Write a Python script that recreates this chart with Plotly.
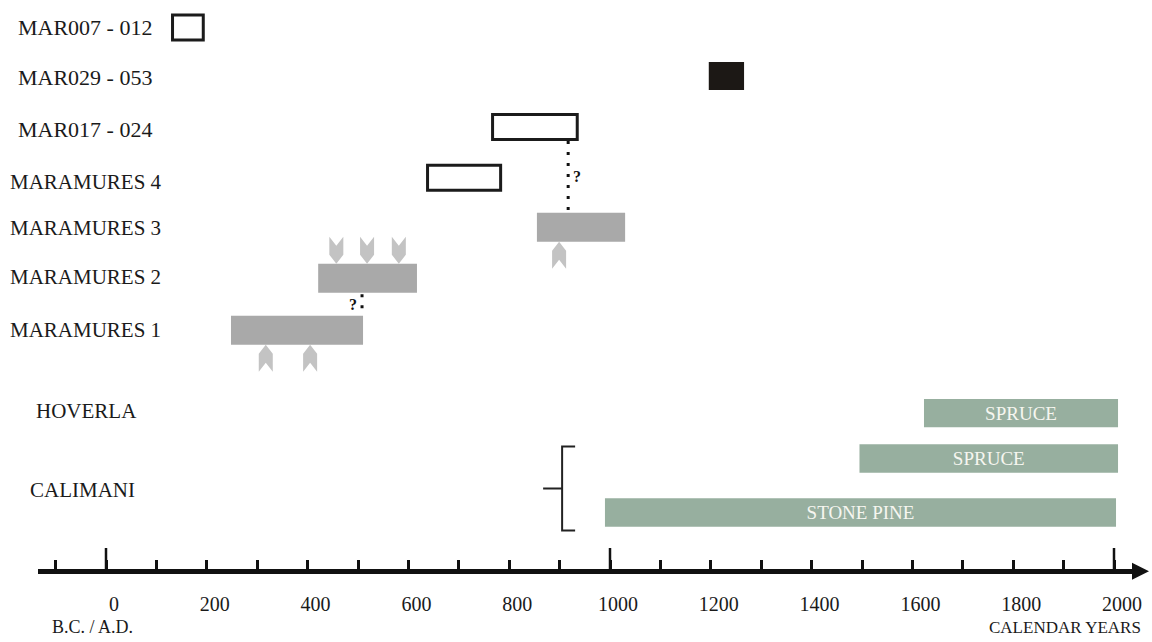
import plotly.graph_objects as go

FONT = "Liberation Serif"

# ---------------- data ----------------
ROW_NAMES = ["MAR007 - 012", "MAR029 - 053", "MAR017 - 024",
             "MARAMURES 4", "MARAMURES 3", "MARAMURES 2", "MARAMURES 1"]
ROW_START = [132, 1196, 767, 638, 855, 421, 248]
ROW_END = [193, 1266, 935, 783, 1030, 617, 510]
ROW_KIND = ["open", "filled", "open", "open", "gray", "gray", "gray"]

SITE_NAMES = ["HOVERLA", "CALIMANI"]
TREE_LABELS = ["SPRUCE", "SPRUCE", "STONE PINE"]
TREE_START = [1623, 1495, 990]
TREE_END = [2008, 2008, 2004]

CHEVRON_ROW = ["MARAMURES 2", "MARAMURES 2", "MARAMURES 2",
               "MARAMURES 1", "MARAMURES 1", "MARAMURES 3"]
CHEVRON_YEAR = [457, 518, 581, 317, 405, 899]
CHEVRON_SIDE = ["above", "above", "above", "below", "below", "below"]

LINK_YEAR = [917, 508]
LINK_FROM = ["MAR017 - 024", "MARAMURES 2"]
LINK_TO = ["MARAMURES 3", "MARAMURES 1"]
LINK_QSIDE = [1, -1]

AXIS_TICKS = list(range(-100, 2001, 100))
AXIS_LABELS = list(range(0, 2001, 200))
AXIS_MAJOR = [0, 1000, 2000]
BRACE_YEAR = 905

# ---------------- layout constants ----------------
W, H = 1152, 642
ML, MR, MB = 38, 19, 72.5
PW = W - ML - MR
PH = H - MB
X_RANGE = [(ML - 106) / 0.504, (W - MR - 106) / 0.504]

ROW_Y = [27.5, 76, 127, 178, 227.5, 278.5, 330.5]
ROW_H = {"open": 25, "filled": 28, "gray": 29}
ROW_LABEL_X = [16, 16, 16, 8, 8, 8, 8]
ROW_LABEL_SIZE = [22, 22, 22, 21, 21, 21, 21]
ROW_LABEL_DY = [0, 2, 3, 4, 1, -1, 0]
TREE_Y = [413.5, 459, 513]
TREE_H = 28.5
SITE_LABEL_X = [34, 28]
SITE_LABEL_Y = [411, 490]

C_OPEN_LINE = "#1b1b1b"
C_FILLED = "#1c1815"
C_GRAY = "#a9a9a9"
C_CHEV = "#c3c3c3"
C_GREEN = "#97af9f"
C_TEXT = "#1a1a1a"


def paper(px, py):
    return (px - ML) / PW, (PH - py) / PH


row_idx = {n: i for i, n in enumerate(ROW_NAMES)}

fig = go.Figure()

styles = {
    "open": dict(color="white", line=dict(color=C_OPEN_LINE, width=3)),
    "filled": dict(color=C_FILLED, line=dict(color=C_FILLED, width=0)),
    "gray": dict(color=C_GRAY, line=dict(width=0)),
}
for kind, mk in styles.items():
    ids = [i for i, k in enumerate(ROW_KIND) if k == kind]
    fig.add_trace(go.Bar(
        orientation="h",
        y=[ROW_Y[i] for i in ids],
        x=[ROW_END[i] - ROW_START[i] for i in ids],
        base=[ROW_START[i] for i in ids],
        width=[ROW_H[kind]] * len(ids),
        marker=mk, hoverinfo="skip", showlegend=False,
    ))

fig.add_trace(go.Bar(
    orientation="h",
    y=TREE_Y,
    x=[e - s for s, e in zip(TREE_START, TREE_END)],
    base=TREE_START,
    width=[TREE_H] * len(TREE_Y),
    marker=dict(color=C_GREEN, line=dict(width=0)),
    text=TREE_LABELS, textposition="inside", insidetextanchor="middle",
    textangle=0, constraintext="none",
    textfont=dict(family=FONT, size=19, color="#f6f6f0"),
    hoverinfo="skip", showlegend=False,
))

# dotted links
for yr, a, b, qs in zip(LINK_YEAR, LINK_FROM, LINK_TO, LINK_QSIDE):
    ia, ib = row_idx[a], row_idx[b]
    y0 = ROW_Y[ia] + ROW_H[ROW_KIND[ia]] / 2 + 1.5
    y1 = ROW_Y[ib] - ROW_H[ROW_KIND[ib]] / 2
    fig.add_trace(go.Scatter(
        x=[yr, yr], y=[y0, y1], mode="lines",
        line=dict(color="#111111", width=3, dash="3px,8px"),
        hoverinfo="skip", showlegend=False,
    ))
    fig.add_annotation(x=yr, y=(y0 + y1) / 2, xref="x", yref="y",
                       text="<b>?</b>", showarrow=False, xshift=9 * qs,
                       font=dict(family=FONT, size=16, color="#111111"))

shapes = []
# chevrons
for rn, yr, side in zip(CHEVRON_ROW, CHEVRON_YEAR, CHEVRON_SIDE):
    i = row_idx[rn]
    h = ROW_H[ROW_KIND[i]]
    if side == "above":
        ya = ROW_Y[i] - h / 2
        path = "M0,0 L7,9 L7,27 L0,18 L-7,27 L-7,9 Z"
    else:
        ya = ROW_Y[i] + h / 2
        path = "M0,0 L7,-9 L7,-27 L0,-18 L-7,-27 L-7,-9 Z"
    shapes.append(dict(type="path", xref="x", yref="y", xsizemode="pixel",
                       ysizemode="pixel", xanchor=yr, yanchor=ya, path=path,
                       fillcolor=C_CHEV, line=dict(width=0), layer="above"))

# tall ticks
for yr in AXIS_MAJOR:
    shapes.append(dict(type="line", xref="x", yref="y", x0=yr, x1=yr,
                       y0=PH, y1=PH - 21, line=dict(color="#111111", width=2.5)))

# arrow head
shapes.append(dict(type="path", xref="paper", yref="paper", xsizemode="pixel",
                   ysizemode="pixel", xanchor=1, yanchor=0,
                   path="M-1,6.25 L16,-2.25 L-1,-10.75 Z",
                   fillcolor="#111111", line=dict(width=0)))

# brace
shapes.append(dict(type="path", xref="x", yref="y", xsizemode="pixel",
                   ysizemode="pixel", xanchor=BRACE_YEAR, yanchor=489,
                   path="M13,42 L0,42 L0,-42 L13,-42 M0,0 L-19,0",
                   fillcolor="rgba(0,0,0,0)",
                   line=dict(color="#222222", width=2)))

# row labels
for name, lx, y, dy, fs in zip(ROW_NAMES, ROW_LABEL_X, ROW_Y, ROW_LABEL_DY, ROW_LABEL_SIZE):
    px, py = paper(lx, y + dy)
    fig.add_annotation(x=px, y=py, xref="paper", yref="paper", text=name,
                       showarrow=False, xanchor="left", yanchor="middle",
                       font=dict(family=FONT, size=fs, color=C_TEXT))
for name, lx, ly in zip(SITE_NAMES, SITE_LABEL_X, SITE_LABEL_Y):
    px, py = paper(lx, ly)
    fig.add_annotation(x=px, y=py, xref="paper", yref="paper", text=name,
                       showarrow=False, xanchor="left", yanchor="middle",
                       font=dict(family=FONT, size=21, color=C_TEXT))

px, py = paper(92, 628)
fig.add_annotation(x=px, y=py, xref="paper", yref="paper", text="B.C. / A.D.",
                   showarrow=False, xanchor="center", yanchor="middle",
                   font=dict(family=FONT, size=18, color=C_TEXT))
px, py = paper(1143, 628)
fig.add_annotation(x=px, y=py, xref="paper", yref="paper", text="CALENDAR YEARS",
                   showarrow=False, xanchor="right", yanchor="middle",
                   font=dict(family=FONT, size=17, color=C_TEXT))

fig.update_layout(
    width=W, height=H,
    margin=dict(l=ML, r=MR, t=0, b=MB, pad=0),
    paper_bgcolor="white", plot_bgcolor="white",
    barmode="overlay",
    shapes=shapes,
    xaxis=dict(range=X_RANGE, showgrid=False, zeroline=False,
               showline=True, linecolor="#111111", linewidth=4.5,
               ticks="inside", ticklen=9, tickwidth=2.5, tickcolor="#111111",
               tickvals=AXIS_TICKS,
               ticktext=[str(v) if v in AXIS_LABELS else "" for v in AXIS_TICKS],
               tickfont=dict(family=FONT, size=20, color=C_TEXT),
               ticklabelstandoff=13, ticklabelshift=8, fixedrange=True),
    yaxis=dict(range=[PH, 0], showgrid=False, zeroline=False, showline=False,
               showticklabels=False, ticks="", fixedrange=True),
)

fig.write_html("out.html", config={"displayModeBar": False},
               post_script="document.body.style.margin='0';document.body.style.overflow='hidden';")
